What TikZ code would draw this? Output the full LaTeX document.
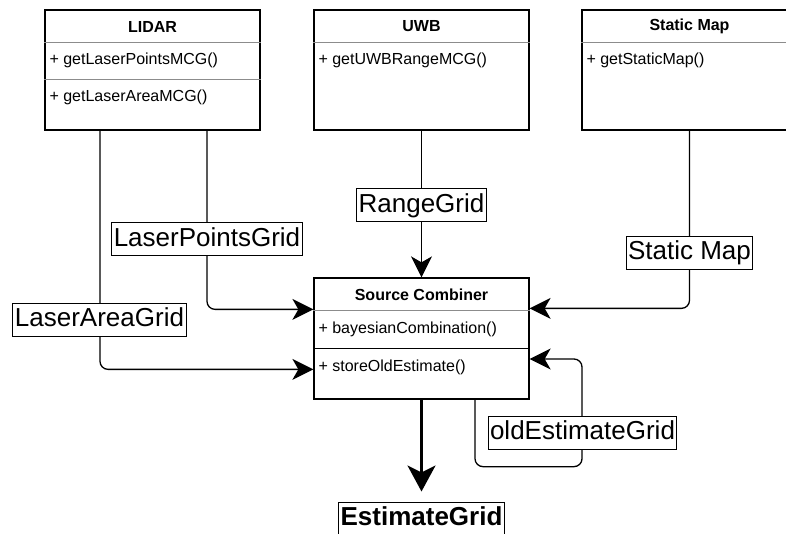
\documentclass[tikz,border=0pt]{standalone}
\usepackage{fontspec}
\setmainfont{Liberation Sans}
\usetikzlibrary{arrows.meta,calc}
\begin{document}
\begin{tikzpicture}[x=1pt,y=-1pt,
 cls/.style={draw, line width=1.3pt, minimum width=215pt, minimum height=120pt, inner sep=0pt},
 ttl/.style={font=\fontsize{16}{16}\selectfont\bfseries, inner sep=0pt},
 mth/.style={font=\fontsize{16}{16}\selectfont, anchor=west, inner sep=0pt},
 sepg/.style={draw=black!45, line width=1.3pt},
 sepk/.style={draw=black, line width=1.3pt},
 conn/.style={line width=1.3pt, rounded corners=8pt, -{Stealth[length=21pt,width=21pt,inset=6pt]}},
 bigconn/.style={line width=2.7pt, -{Stealth[length=26pt,width=28pt,inset=7pt]}},
 lbl/.style={draw, fill=white, line width=1pt, font=\fontsize{26}{26}\selectfont, inner xsep=2pt, inner ysep=0pt, minimum height=33pt, text height=19pt, text depth=5pt}]
\useasboundingbox (0,0) rectangle (786,533);
\clip (0,0) rectangle (786,533);

% LIDAR
\node[cls] (lidar) at (152.5,70) {};
\node[ttl] (lidart) at (152.5,26.5) {LIDAR};
\draw[sepg] ($(lidar.north west)+(0,33)$) -- ($(lidar.north east)+(0,33)$);
\draw[sepg] ($(lidar.north west)+(0,70)$) -- ($(lidar.north east)+(0,70)$);
\node[mth] (lidm1) at ($(lidar.north west)+(5,51.5)$) {+ getLaserPointsMCG()};
\node[mth] (lidm2) at ($(lidar.north west)+(5,88.5)$) {+ getLaserAreaMCG()};

% UWB
\node[cls] (uwb) at (421.5,70) {};
\node[ttl] (uwbt) at (421.5,26.5) {UWB};
\draw[sepg] ($(uwb.north west)+(0,33)$) -- ($(uwb.north east)+(0,33)$);
\node[mth] (uwbm1) at ($(uwb.north west)+(5,51.5)$) {+ getUWBRangeMCG()};

% Static Map
\node[cls] (static) at (689.5,70) {};
\node[ttl] (statict) at (689.5,26.5) {Static Map};
\draw[sepg] ($(static.north west)+(0,33)$) -- ($(static.north east)+(0,33)$);
\node[mth] (staticm1) at ($(static.north west)+(5,51.5)$) {+ getStaticMap()};

% Source Combiner
\node[cls, minimum height=121pt] (comb) at (421.5,338.5) {};
\node[ttl] (combt) at (421.5,294.5) {Source Combiner};
\draw[sepg] ($(comb.north west)+(0,33)$) -- ($(comb.north east)+(0,33)$);
\draw[sepk] ($(comb.north west)+(0,71)$) -- ($(comb.north east)+(0,71)$);
\node[mth] (combm1) at ($(comb.north west)+(5,52)$) {+ bayesianCombination()};
\node[mth] (combm2) at ($(comb.north west)+(5,90)$) {+ storeOldEstimate()};

% Connectors
\draw[conn] ([xshift=54.5pt]lidar.south) |- ($(comb.north west)+(0,32)$);
\draw[conn] ([xshift=-52.5pt]lidar.south) |- ($(comb.north west)+(0,92)$);
\draw[conn] (uwb.south) -- (comb.north);
\draw[conn] (static.south) |- ($(comb.north east)+(0,31)$);
\draw[conn] ([xshift=53.5pt]comb.south) -- ++(0,67) -- ++(107,0) |- ($(comb.east)+(0,20.5)$);

% Labels
\node[lbl] (lpg) at (207,239) {LaserPointsGrid};
\node[lbl] (lag) at (99.5,319.5) {LaserAreaGrid};
\node[lbl] (rg) at (421.5,205) {RangeGrid};
\node[lbl] (smg) at (689.5,252.5) {Static Map};
\node[lbl] (oeg) at (582.5,432.5) {oldEstimateGrid};

% Estimate
\node[lbl, font=\fontsize{26}{26}\selectfont\bfseries] (est) at (421.5,518.5) {EstimateGrid};
\draw[bigconn, shorten >=10pt] (comb.south) -- (est.north);
\end{tikzpicture}
\end{document}
